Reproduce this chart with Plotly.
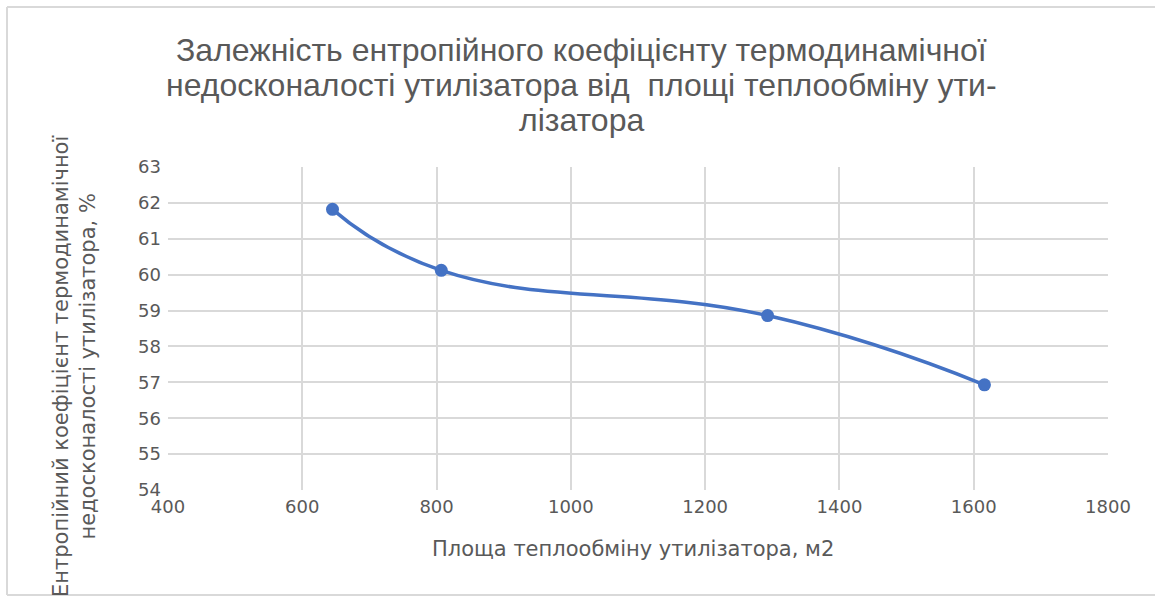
import plotly.graph_objects as go

# Heat-exchange area of the recovery unit, m2
area = [645, 807, 1293, 1616]
# Entropy coefficient of thermodynamic imperfection, %
entropy_coef = [61.82, 60.12, 58.86, 56.93]

x_ticks = [400, 600, 800, 1000, 1200, 1400, 1600, 1800]
y_ticks = [54, 55, 56, 57, 58, 59, 60, 61, 62, 63]

title_lines = ["Залежність ентропійного коефіцієнту термодинамічної",
               "недосконалості утилізатора від  площі теплообміну ути-",
               "лізатора"]
x_title = "Площа теплообміну утилізатора, м2"
y_title = ("Ентропійний коефіцієнт термодинамічної<br>"
           "недосконалості утилізатора, %")

line_color = "#4472C4"
text_color = "#595959"
grid_color = "#D9D9D9"

W, H = 1155, 596
L, R, T, B = 168, 47, 167, 106
pw, ph = W - L - R, H - T - B


def px(x):
    return (x - L) / pw


def py(y):
    return (H - B - y) / ph


fig = go.Figure()
fig.add_trace(go.Scatter(
    x=area, y=entropy_coef,
    mode="lines+markers",
    line=dict(color=line_color, width=3.5, shape="spline", smoothing=1.3),
    marker=dict(color=line_color, size=13),
    showlegend=False,
    cliponaxis=False,
))

axis_common = dict(
    showgrid=True, gridcolor=grid_color, gridwidth=1.5,
    showline=False, zeroline=False, ticks="",
    tickfont=dict(family="DejaVu Sans", size=18, color=text_color),
)

fig.update_xaxes(range=[400, 1800], tickvals=x_ticks, ticklabelstandoff=4, **axis_common)
fig.update_yaxes(range=[54, 63], tickvals=y_ticks, ticklabelstandoff=6, **axis_common)

# chart frame (top, left, bottom edges)
frame = dict(type="line", xref="paper", yref="paper",
             line=dict(color="#D9D9D9", width=2), layer="below")
fig.add_shape(x0=px(7), x1=px(W + 5), y0=py(7), y1=py(7), **frame)
fig.add_shape(x0=px(7), x1=px(7), y0=py(7), y1=py(595), **frame)
fig.add_shape(x0=px(7), x1=px(W + 5), y0=py(595), y1=py(595), **frame)

# chart title, one annotation per line for tighter line spacing
for line_text, y_pix in zip(title_lines, [50, 85, 120]):
    fig.add_annotation(
        text=line_text, xref="paper", yref="paper",
        x=px(581), y=py(y_pix), xanchor="center", yanchor="middle",
        showarrow=False, align="center", borderpad=0,
        font=dict(family="Liberation Sans Narrow, Liberation Sans", size=32, color=text_color),
    )
fig.add_annotation(
    text=x_title, xref="paper", yref="paper",
    x=px(633), y=py(549), xanchor="center", yanchor="middle",
    showarrow=False,
    font=dict(family="DejaVu Sans", size=21, color=text_color),
)
fig.add_annotation(
    text=y_title, xref="paper", yref="paper",
    x=px(74), y=py(367), xanchor="center", yanchor="middle",
    showarrow=False, textangle=-90, align="center",
    font=dict(family="DejaVu Sans", size=21, color=text_color),
)

fig.update_layout(
    width=W, height=H,
    margin=dict(l=L, r=R, t=T, b=B),
    paper_bgcolor="white", plot_bgcolor="white",
)

fig.write_html("out.html")
